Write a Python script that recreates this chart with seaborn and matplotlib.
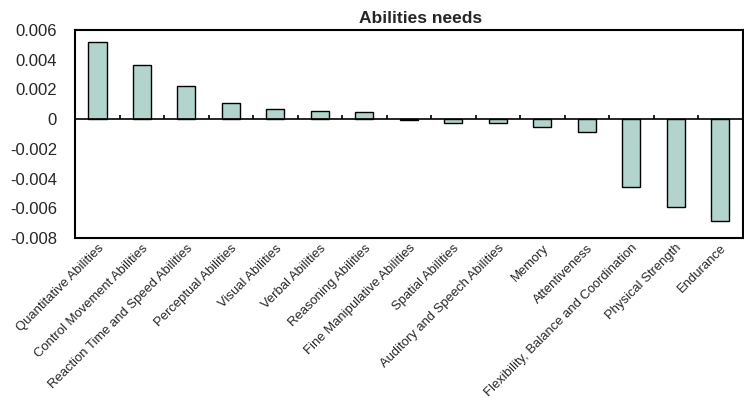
import numpy as np
import pandas as pd
import matplotlib
matplotlib.use('Agg')
import matplotlib.pyplot as plt
import seaborn as sns

# values
abilities = ['Quantitative Abilities', 'Control Movement Abilities',
             'Reaction Time and Speed Abilities', 'Perceptual Abilities',
             'Visual Abilities', 'Verbal Abilities', 'Reasoning Abilities',
             'Fine Manipulative Abilities', 'Spatial Abilities',
             'Auditory and Speech Abilities', 'Memory', 'Attentiveness',
             'Flexibility, Balance and Coordination', 'Physical Strength',
             'Endurance']
needs = [0.0052, 0.00366, 0.00222, 0.00112, 0.00065, 0.00058, 0.0005,
         -0.00005, -0.00029, -0.00029, -0.00054, -0.00085,
         -0.0046, -0.00594, -0.00684]
y_ticks = [0.006, 0.004, 0.002, 0, -0.002, -0.004, -0.006, -0.008]
y_tick_labels = ['0.006', '0.004', '0.002', '0', '-0.002', '-0.004', '-0.006', '-0.008']

df = pd.DataFrame({'Ability': abilities, 'Need': needs})

sns.set_style('white')
plt.rcParams['font.family'] = ['Liberation Sans', 'DejaVu Sans']

fig, ax = plt.subplots(figsize=(7.44, 4.0), dpi=100)
fig.subplots_adjust(left=0.101, right=0.998, top=0.925, bottom=0.405)

sns.barplot(data=df, x='Ability', y='Need', color='#b3d4cc', saturation=1,
            edgecolor='black', linewidth=1, width=0.41, ax=ax)

# zero line with small category separators, Excel style
ax.axhline(0, color='black', lw=1.2)
ax.vlines(np.arange(0.5, len(abilities) - 0.5), 0, 0.00025, color='black', lw=1.2)

ax.set_xlim(-0.5, len(abilities) - 0.5)
ax.set_ylim(-0.008, 0.006)
ax.set_yticks(y_ticks)
ax.set_yticklabels(y_tick_labels, fontsize=12)
ax.set_xticks(range(len(abilities)))
ax.set_xticklabels(abilities, rotation=45, ha='right', rotation_mode='anchor', fontsize=9.4)
ax.tick_params(axis='x', length=0, pad=3)
ax.tick_params(axis='y', length=0, pad=13)
ax.set_xlabel('')
ax.set_ylabel('')
for s in ax.spines.values():
    s.set_color('black')
    s.set_linewidth(1.5)
ax.set_title('Abilities needs', fontweight='bold', fontsize=12.5, pad=5, x=0.517)

fig.savefig('out.png', dpi=100)
